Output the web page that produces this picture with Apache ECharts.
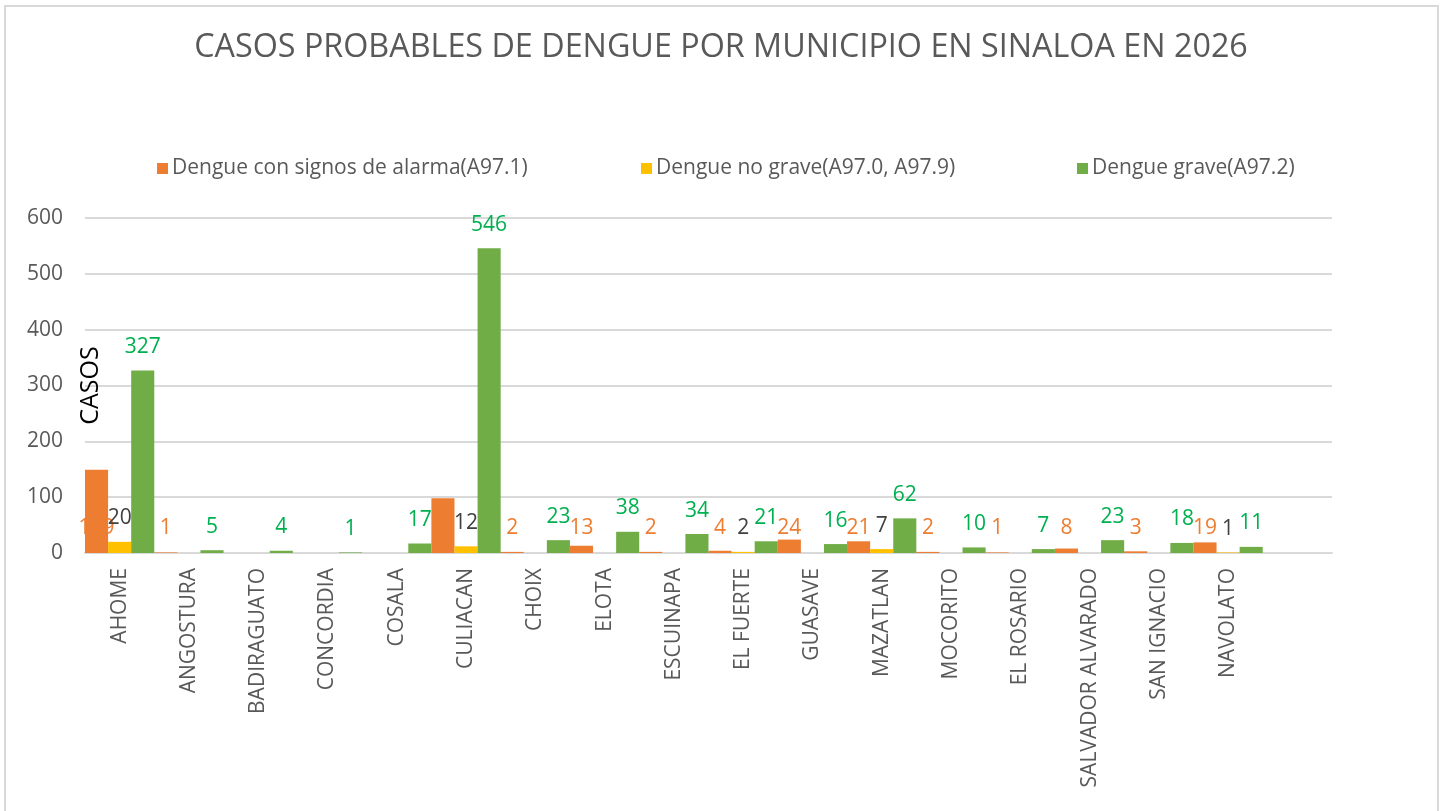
<!DOCTYPE html>
<html>
<head>
<meta charset="utf-8">
<script src="https://cdn.jsdelivr.net/npm/echarts@6/dist/echarts.min.js"></script>
<style>
  html, body { margin: 0; padding: 0; background: #fff; }
  #chart { width: 1442px; height: 811px; }
</style>
</head>
<body>
<div id="chart"></div>
<script>
const MUNICIPIOS = [
  'AHOME', 'ANGOSTURA', 'BADIRAGUATO', 'CONCORDIA', 'COSALA', 'CULIACAN', 'CHOIX', 'ELOTA',
  'ESCUINAPA', 'EL FUERTE', 'GUASAVE', 'MAZATLAN', 'MOCORITO', 'EL ROSARIO',
  'SALVADOR ALVARADO', 'SAN IGNACIO', 'NAVOLATO', '',
]

const SERIES_NAMES = ['Dengue con signos de alarma(A97.1)', 'Dengue no grave(A97.0, A97.9)', 'Dengue grave(A97.2)']

const CON_ALARMA = [149, 1, null, null, null, 98, 2, 13, 2, 4, 24, 21, 2, 1, 8, 3, 19, null]
const NO_GRAVE = [20, null, null, null, null, 12, null, null, null, 2, null, 7, null, null, null, null, 1, null]
const GRAVE = [327, 5, 4, 1, 17, 546, 23, 38, 34, 21, 16, 62, 10, 7, 23, 18, 11, null]

const Y_TICKS = { min: 0, max: 600, interval: 100 }

const FONT = '"Open Sans", "Noto Sans", sans-serif'
const GREY = '#595959'

const chart = echarts.init(document.getElementById('chart'))

function legendAt(name, left) {
  return {
    data: [name],
    left,
    top: 153,
    itemWidth: 11,
    itemHeight: 11,
    itemGap: 0,
    icon: 'rect',
    textStyle: { color: GREY, fontSize: 21, fontFamily: FONT, padding: [0, 0, 0, -1] },
  }
}

chart.setOption({
  animation: false,
  backgroundColor: '#fff',
  title: {
    text: 'CASOS PROBABLES DE DENGUE POR MUNICIPIO EN SINALOA EN 2026',
    left: 'center',
    top: 27,
    textStyle: { color: GREY, fontSize: 32.3, fontWeight: 'normal', fontFamily: FONT },
  },
  legend: [
    legendAt(SERIES_NAMES[0], 152),
    legendAt(SERIES_NAMES[1], 636),
    legendAt(SERIES_NAMES[2], 1072),
  ],
  graphic: [
    {
      type: 'rect',
      shape: { x: 5, y: 6, width: 1433, height: 830 },
      style: { fill: 'none', stroke: '#d9d9d9', lineWidth: 2 },
      silent: true,
    },
  ],
  grid: { left: 85, right: 110, top: 218, bottom: 258, outerBoundsMode: 'none', containLabel: false },
  xAxis: {
    type: 'category',
    data: MUNICIPIOS,
    axisTick: { show: false },
    axisLine: { lineStyle: { color: '#d9d9d9', width: 2 } },
    axisLabel: { rotate: 90, color: GREY, fontSize: 21, fontFamily: FONT, margin: 15, interval: 0 },
  },
  yAxis: {
    type: 'value',
    min: Y_TICKS.min,
    max: Y_TICKS.max,
    interval: Y_TICKS.interval,
    name: 'CASOS',
    nameLocation: 'middle',
    nameRotate: 90,
    nameGap: -18,
    nameMoveOverlap: false,
    nameTextStyle: { color: '#000', fontSize: 25, fontFamily: FONT },
    axisLine: { show: false },
    axisTick: { show: false },
    axisLabel: { color: GREY, fontSize: 21, fontFamily: FONT, margin: 22 },
    splitLine: { lineStyle: { color: '#d9d9d9', width: 2 } },
  },
  series: [
    {
      name: SERIES_NAMES[0],
      type: 'bar',
      data: CON_ALARMA,
      barGap: '0%',
      barCategoryGap: '0%',
      itemStyle: { color: '#ED7D31' },
      label: {
        show: true,
        position: 'insideBottom',
        distance: 14,
        color: '#ED7D31',
        fontSize: 21,
        fontFamily: FONT,
      },
    },
    {
      name: SERIES_NAMES[1],
      type: 'bar',
      data: NO_GRAVE,
      barGap: '0%',
      barCategoryGap: '0%',
      itemStyle: { color: '#FFC000' },
      label: { show: true, position: 'top', distance: 13, color: '#404040', fontSize: 21, fontFamily: FONT },
    },
    {
      name: SERIES_NAMES[2],
      type: 'bar',
      data: GRAVE,
      barGap: '0%',
      barCategoryGap: '0%',
      itemStyle: { color: '#70AD47' },
      label: { show: true, position: 'top', distance: 13, color: '#00B050', fontSize: 21, fontFamily: FONT },
    },
  ],
})
</script>
</body>
</html>
